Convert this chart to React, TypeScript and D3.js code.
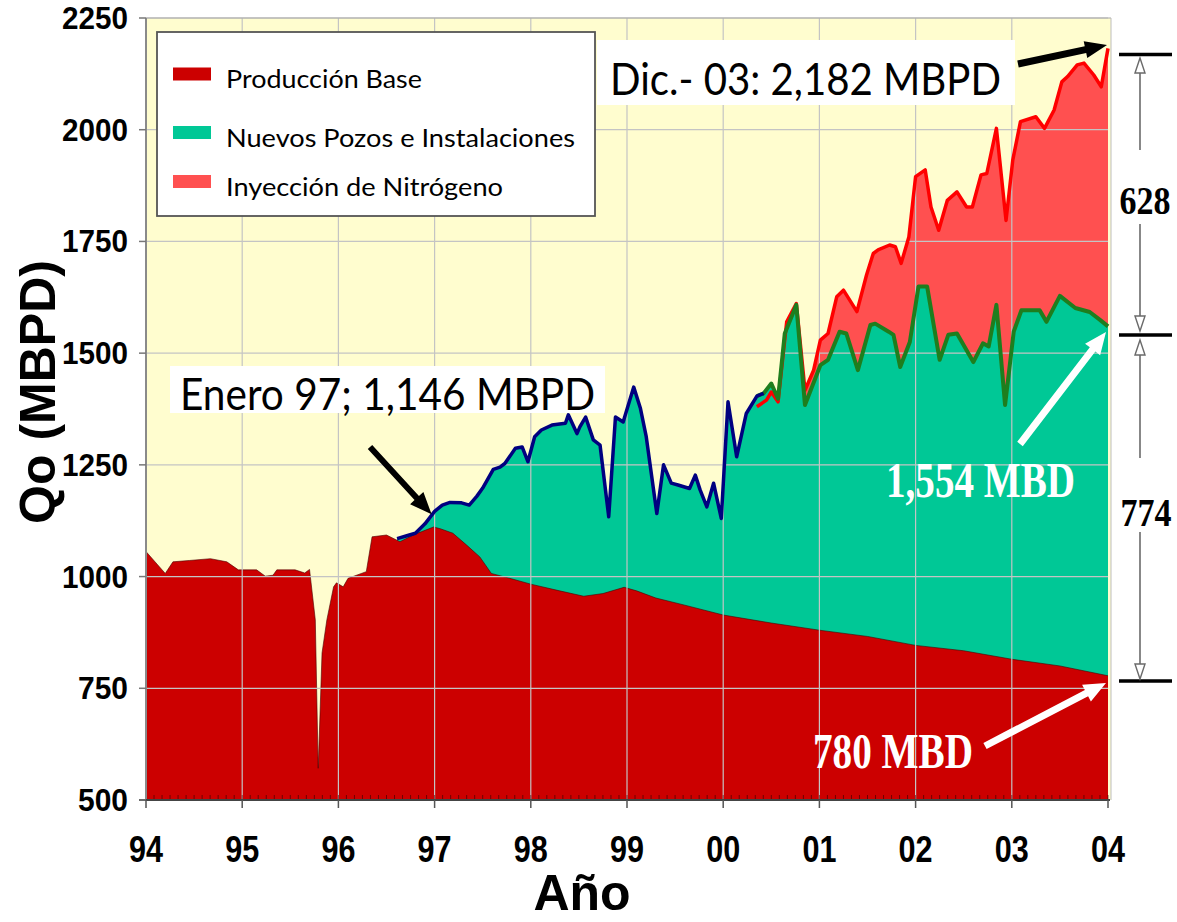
import React from 'react';
import * as d3 from 'd3';

// ---------- data ----------
const yearTicks = [1994, 1995, 1996, 1997, 1998, 1999, 2000, 2001, 2002, 2003, 2004];
const yearLabels = ['94', '95', '96', '97', '98', '99', '00', '01', '02', '03', '04'];
const valueTicks = [500, 750, 1000, 1250, 1500, 1750, 2000, 2250];

// Producción Base (MBPD)
const baseProduction: [number, number][] = [
  [1994.0, 1056], [1994.2, 1007], [1994.28, 1033], [1994.45, 1036], [1994.67, 1040], [1994.84, 1033],
  [1994.96, 1015], [1995.15, 1015], [1995.24, 1001], [1995.32, 1003], [1995.36, 1015], [1995.55, 1015],
  [1995.65, 1008], [1995.7, 1016], [1995.76, 903], [1995.79, 571], [1995.83, 829], [1995.88, 903],
  [1995.95, 977], [1995.98, 986], [1996.05, 977], [1996.1, 996], [1996.29, 1011], [1996.35, 1089],
  [1996.5, 1093], [1996.64, 1078], [1996.8, 1095], [1996.99, 1111], [1997.06, 1107], [1997.19, 1097],
  [1997.33, 1071], [1997.47, 1044], [1997.59, 1007], [1997.8, 995], [1998.0, 983], [1998.3, 968],
  [1998.55, 956], [1998.75, 962], [1998.97, 976], [1999.1, 968], [1999.3, 952], [1999.6, 936],
  [2000.0, 914], [2000.5, 896], [2001.0, 880], [2001.5, 866], [2002.0, 846], [2002.5, 834],
  [2003.0, 815], [2003.5, 800], [2004.0, 778],
];

// Base + Nuevos Pozos e Instalaciones (MBPD)
const newWellsTop: [number, number][] = [
  [1996.61, 1085], [1996.72, 1092], [1996.8, 1097], [1996.9, 1118], [1997.0, 1146], [1997.08, 1160],
  [1997.16, 1166], [1997.28, 1165], [1997.36, 1160], [1997.44, 1180], [1997.5, 1198], [1997.61, 1240],
  [1997.68, 1245], [1997.73, 1253], [1997.84, 1287], [1997.91, 1290], [1997.97, 1257], [1998.04, 1313],
  [1998.11, 1328], [1998.22, 1339], [1998.36, 1343], [1998.39, 1362], [1998.48, 1320], [1998.51, 1335],
  [1998.57, 1357], [1998.65, 1306], [1998.72, 1294], [1998.81, 1134], [1998.88, 1357], [1998.96, 1346],
  [1999.07, 1424], [1999.14, 1376], [1999.2, 1313], [1999.31, 1141], [1999.38, 1250], [1999.46, 1209],
  [1999.53, 1205], [1999.65, 1197], [1999.71, 1227], [1999.76, 1194], [1999.83, 1156], [1999.9, 1209],
  [1999.98, 1130], [2000.05, 1391], [2000.14, 1268], [2000.24, 1365], [2000.35, 1404], [2000.42, 1410],
  [2000.5, 1432], [2000.57, 1398], [2000.64, 1544], [2000.76, 1608], [2000.85, 1384], [2001.01, 1473],
  [2001.09, 1485], [2001.21, 1548], [2001.28, 1544], [2001.4, 1462], [2001.53, 1563], [2001.58, 1566],
  [2001.72, 1548], [2001.77, 1541], [2001.84, 1469], [2001.94, 1525], [2002.03, 1649], [2002.12, 1649],
  [2002.25, 1485], [2002.34, 1541], [2002.43, 1544], [2002.6, 1480], [2002.7, 1522], [2002.76, 1515],
  [2002.84, 1608], [2002.93, 1384], [2003.02, 1548], [2003.1, 1596], [2003.29, 1596], [2003.36, 1570],
  [2003.5, 1628], [2003.66, 1601], [2003.81, 1592], [2003.92, 1574], [2004.0, 1560],
];

// Total incl. Inyección de Nitrógeno (MBPD)
const nitrogenTop: [number, number][] = [
  [2000.35, 1380], [2000.45, 1395], [2000.5, 1413], [2000.57, 1391], [2000.66, 1570], [2000.76, 1611],
  [2000.85, 1417], [2000.94, 1462], [2001.01, 1529], [2001.09, 1544], [2001.18, 1626], [2001.25, 1641],
  [2001.39, 1593], [2001.49, 1675], [2001.56, 1723], [2001.61, 1731], [2001.73, 1742], [2001.79, 1738],
  [2001.85, 1701], [2001.93, 1760], [2002.0, 1895], [2002.1, 1910], [2002.16, 1827], [2002.24, 1775],
  [2002.33, 1842], [2002.43, 1861], [2002.53, 1827], [2002.59, 1827], [2002.68, 1899], [2002.74, 1902],
  [2002.84, 2003], [2002.94, 1797], [2003.01, 1932], [2003.09, 2018], [2003.25, 2029], [2003.34, 2003],
  [2003.44, 2044], [2003.52, 2107], [2003.58, 2119], [2003.68, 2145], [2003.75, 2149], [2003.85, 2123],
  [2003.93, 2096], [2004.0, 2182],
];

const legendLabels = ['Producción Base', 'Nuevos Pozos e Instalaciones', 'Inyección de Nitrógeno'];
const legendColors = ['#CC0000', '#00C896', '#FF5050'];

// ---------- helpers ----------
function arrowPath(x1: number, y1: number, x2: number, y2: number, w: number, hl: number, hw: number) {
  const dx = x2 - x1, dy = y2 - y1;
  const L = Math.hypot(dx, dy);
  const ux = dx / L, uy = dy / L;
  const px = -uy, py = ux;
  const bx = x2 - ux * hl, by = y2 - uy * hl;
  const pts = [
    [x1 + (px * w) / 2, y1 + (py * w) / 2],
    [bx + (px * w) / 2, by + (py * w) / 2],
    [bx + (px * hw) / 2, by + (py * hw) / 2],
    [x2, y2],
    [bx - (px * hw) / 2, by - (py * hw) / 2],
    [bx - (px * w) / 2, by - (py * w) / 2],
    [x1 - (px * w) / 2, y1 - (py * w) / 2],
  ];
  return 'M' + pts.map((p) => p.join(',')).join('L') + 'Z';
}

function DimArrow({ x, from, to }: { x: number; from: number; to: number }) {
  const dir = to < from ? -1 : 1;
  const hl = 15, hw = 10;
  const base = to - dir * hl;
  return (
    <g>
      <line x1={x} y1={from} x2={x} y2={base} stroke="#6a6a6a" strokeWidth={1.6} />
      <path
        d={`M${x - hw / 2},${base}L${x},${to}L${x + hw / 2},${base}Z`}
        fill="#fff"
        stroke="#6a6a6a"
        strokeWidth={1.4}
      />
    </g>
  );
}

export default function App() {
  const W = 1177, H = 922;
  const x = d3.scaleLinear().domain([1994, 2004]).range([146, 1108]);
  const y = d3.scaleLinear().domain([500, 2250]).range([800, 18]);
  const x0 = x(1994), x1 = x(2004), yb = y(500), yt = y(2250);

  const area = d3
    .area<[number, number]>()
    .x((d) => x(d[0]))
    .y0(yb)
    .y1((d) => y(d[1]));
  const line = d3
    .line<[number, number]>()
    .x((d) => x(d[0]))
    .y((d) => y(d[1]));

  const blueLine = newWellsTop.filter((d) => d[0] <= 2000.42);
  const greenLine = newWellsTop.filter((d) => d[0] >= 2000.35);

  const months = d3.range(0, 121).map((i) => 1994 + i / 12);

  const sans = "Lato, 'Open Sans', 'Noto Sans', sans-serif";
  const bold = "'Liberation Sans', Arial, sans-serif";
  const serif = "'Liberation Serif', 'Times New Roman', serif";

  return (
    <svg
      width={W}
      height={H}
      viewBox={`0 0 ${W} ${H}`}
      style={{ position: 'absolute', left: 0, top: 0, display: 'block', background: '#fff' }}
    >
      {/* plot background */}
      <rect x={x0} y={yt} width={x1 - x0 + 3} height={yb - yt} fill="#FFFDCF" />

      {/* layered areas */}
      <path d={area(nitrogenTop) || ''} fill="#FF5050" />
      <path d={area(newWellsTop) || ''} fill="#00C896" />
      <path d={area(baseProduction) || ''} fill="#CC0000" />
      <path d={line(baseProduction) || ''} fill="none" stroke="#4a0000" strokeWidth={1} strokeOpacity={0.6} />

      {/* grid */}
      {yearTicks.slice(1, -1).map((t) => (
        <line key={'gx' + t} x1={x(t)} x2={x(t)} y1={yt} y2={yb} stroke="#C4C4C4" strokeWidth={1.2} />
      ))}
      {valueTicks.slice(1).map((v) => (
        <line key={'gy' + v} x1={x0} x2={x1} y1={y(v)} y2={y(v)} stroke="#C4C4C4" strokeWidth={1.2} />
      ))}

      {/* series lines */}
      <path d={line(nitrogenTop) || ''} fill="none" stroke="#FF0000" strokeWidth={3.5} strokeLinejoin="round" />
      <path d={line(greenLine) || ''} fill="none" stroke="#1E7E1E" strokeWidth={4} strokeLinejoin="round" />
      <path d={line(blueLine) || ''} fill="none" stroke="#000080" strokeWidth={3.5} strokeLinejoin="round" />

      {/* monthly minor ticks */}
      {months.map((m, i) => (
        <line key={'m' + i} x1={x(m)} x2={x(m)} y1={yb - 5} y2={yb} stroke="#300" strokeOpacity={0.6} strokeWidth={1} />
      ))}

      {/* frame & axes */}
      <line x1={x0} x2={x1 + 3} y1={yt} y2={yt} stroke="#A8A8A8" strokeWidth={1.2} />
      <line x1={x1 + 3} x2={x1 + 3} y1={yt} y2={yb} stroke="#BDBDBD" strokeWidth={1} />
      <line x1={x0} x2={x0} y1={yt} y2={yb} stroke="#8a8a8a" strokeWidth={2} />
      <line x1={x0 - 7} x2={x1 + 2} y1={yb} y2={yb} stroke="#444" strokeWidth={2} />
      {valueTicks.map((v) => (
        <g key={'yt' + v}>
          <line x1={x0 - 7} x2={x0} y1={y(v)} y2={y(v)} stroke="#777" strokeWidth={1.5} />
          <text
            x={128}
            y={y(v) + 11}
            textAnchor="end"
            fontFamily={bold}
            fontWeight="bold"
            fontSize={32}
            textLength={v >= 1000 ? 66 : 50}
            lengthAdjust="spacingAndGlyphs"
            fill="#000"
          >
            {v}
          </text>
        </g>
      ))}
      {yearTicks.map((t, i) => (
        <g key={'xt' + t}>
          <line x1={x(t)} x2={x(t)} y1={yb} y2={yb + 8} stroke="#555" strokeWidth={1.5} />
          <text
            x={x(t)}
            y={862}
            textAnchor="middle"
            fontFamily={bold}
            fontWeight="bold"
            fontSize={37}
            textLength={34}
            lengthAdjust="spacingAndGlyphs"
            fill="#000"
          >
            {yearLabels[i]}
          </text>
        </g>
      ))}

      {/* axis titles */}
      <text x={582} y={910} textAnchor="middle" fontFamily={bold} fontWeight="bold" fontSize={50} fill="#000">
        Año
      </text>
      <text
        transform="translate(55,392) rotate(-90)"
        textAnchor="middle"
        fontFamily={bold}
        fontWeight="bold"
        fontSize={50}
        fill="#000"
      >
        Qo (MBPD)
      </text>

      {/* legend */}
      <rect x={157} y={32} width={438} height={184} fill="#fff" stroke="#555" strokeWidth={1.8} />
      {legendLabels.map((lab, i) => {
        const cy = [74, 132.5, 181.5][i];
        const widths = [196, 349, 277];
        return (
          <g key={'lg' + i}>
            <rect x={173} y={cy - 6.5} width={38} height={13} fill={legendColors[i]} />
            <text
              x={226}
              y={cy + 14}
              fontFamily={sans}
              fontSize={25}
              textLength={widths[i]}
              lengthAdjust="spacingAndGlyphs"
              fill="#000"
            >
              {lab}
            </text>
          </g>
        );
      })}

      {/* Enero 97 annotation */}
      <rect x={170} y={366} width={435} height={47} fill="#fff" />
      <text x={180} y={410} fontFamily={sans} fontSize={44} textLength={415} lengthAdjust="spacingAndGlyphs" fill="#000">
        Enero 97; 1,146 MBPD
      </text>
      <path d={arrowPath(370, 447, x(1997) - 3, y(1146) + 3, 6, 22, 18)} fill="#000" />

      {/* Dic 03 annotation */}
      <rect x={597} y={40} width={418} height={65} fill="#fff" />
      <text x={610} y={95} fontFamily={sans} fontSize={44} textLength={391} lengthAdjust="spacingAndGlyphs" fill="#000">
        Dic.- 03: 2,182 MBPD
      </text>
      <path d={arrowPath(1018, 64, x(2004) - 1, 45, 7, 22, 17)} fill="#000" />

      {/* white annotations */}
      <path d={arrowPath(1020, 444, x(2004) - 2, y(1554) + 3, 7, 22, 19)} fill="#fff" />
      <text
        x={886}
        y={497}
        fontFamily={serif}
        fontWeight="bold"
        fontSize={50}
        textLength={189}
        lengthAdjust="spacingAndGlyphs"
        fill="#fff"
      >
        1,554 MBD
      </text>
      <path d={arrowPath(985, 746, x(2004) - 2, y(780) + 8, 7, 22, 19)} fill="#fff" />
      <text
        x={813}
        y={768}
        fontFamily={serif}
        fontWeight="bold"
        fontSize={50}
        textLength={160}
        lengthAdjust="spacingAndGlyphs"
        fill="#fff"
      >
        780 MBD
      </text>

      {/* right-side dimension marks */}
      {[2182, 1554, 780].map((v) => (
        <line key={'dm' + v} x1={1119} x2={1172} y1={y(v) + 6} y2={y(v) + 6} stroke="#000" strokeWidth={3.5} />
      ))}
      <DimArrow x={1140} from={150} to={58} />
      <DimArrow x={1140} from={224} to={331} />
      <DimArrow x={1140} from={458} to={340} />
      <DimArrow x={1140} from={532} to={679} />
      <text
        transform="translate(1145,214) scale(0.85,1)"
        textAnchor="middle"
        fontFamily={serif}
        fontWeight="bold"
        fontSize={40}
        fill="#000"
      >
        628
      </text>
      <text
        transform="translate(1146,526) scale(0.85,1)"
        textAnchor="middle"
        fontFamily={serif}
        fontWeight="bold"
        fontSize={40}
        fill="#000"
      >
        774
      </text>
    </svg>
  );
}
